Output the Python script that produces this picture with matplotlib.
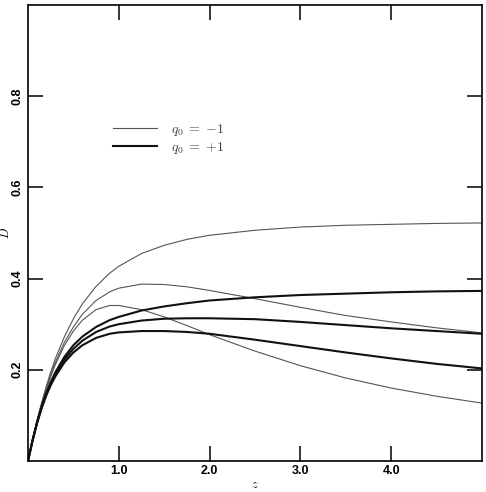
import matplotlib
matplotlib.use("Agg")
import matplotlib.pyplot as plt
from matplotlib.lines import Line2D

plt.rcParams['mathtext.fontset'] = 'cm'

# redshift samples
z = [0.0, 0.05, 0.1, 0.15, 0.2, 0.25, 0.3, 0.4, 0.5, 0.6, 0.75, 0.9, 1.0,
     1.25, 1.5, 1.75, 2.0, 2.5, 3.0, 3.5, 4.0, 4.5, 5.0]

# q0 = -1 (thin curves)
thin_a = [0.0, 0.047, 0.090, 0.128, 0.163, 0.195, 0.224, 0.272, 0.312, 0.345, 0.383, 0.412, 0.427,
          0.455, 0.473, 0.486, 0.495, 0.506, 0.513, 0.517, 0.519, 0.521, 0.522]
thin_b = [0.0, 0.046, 0.088, 0.125, 0.159, 0.189, 0.216, 0.260, 0.294, 0.322, 0.352, 0.371, 0.379,
          0.388, 0.387, 0.382, 0.374, 0.356, 0.337, 0.319, 0.305, 0.292, 0.281]
thin_c = [0.0, 0.046, 0.087, 0.123, 0.156, 0.185, 0.211, 0.253, 0.285, 0.309, 0.332, 0.341, 0.341,
          0.332, 0.316, 0.297, 0.277, 0.241, 0.209, 0.182, 0.160, 0.142, 0.127]

# q0 = +1 (thick curves)
thick_d = [0.0, 0.045, 0.085, 0.119, 0.148, 0.173, 0.194, 0.228, 0.254, 0.273, 0.294, 0.309, 0.316,
           0.330, 0.339, 0.346, 0.352, 0.359, 0.364, 0.367, 0.370, 0.372, 0.373]
thick_e = [0.0, 0.045, 0.084, 0.117, 0.145, 0.169, 0.189, 0.222, 0.246, 0.264, 0.283, 0.295, 0.300,
           0.308, 0.312, 0.313, 0.313, 0.311, 0.305, 0.298, 0.291, 0.285, 0.279]
thick_f = [0.0, 0.045, 0.083, 0.116, 0.143, 0.166, 0.185, 0.216, 0.238, 0.254, 0.270, 0.279, 0.282,
           0.285, 0.285, 0.283, 0.279, 0.266, 0.252, 0.238, 0.225, 0.213, 0.203]

x_ticks = [1.0, 2.0, 3.0, 4.0]
y_ticks = [0.2, 0.4, 0.6, 0.8]
legend_labels = [r'$q_0\;{=}\;{-1}$', r'$q_0\;{=}\;{+1}$']

THIN_COLOR = "#555555"
THICK_COLOR = "#111111"


def main():
    fig = plt.figure(figsize=(4.86, 4.92), dpi=100)
    ax = fig.add_axes([28 / 486, 31 / 492, 454 / 486, 456 / 492])

    for ys in (thin_a, thin_b, thin_c):
        ax.plot(z, ys, color=THIN_COLOR, lw=0.8)
    for ys in (thick_d, thick_e, thick_f):
        ax.plot(z, ys, color=THICK_COLOR, lw=1.5)

    ax.set_xlim(0, 5)
    ax.set_ylim(0, 1)
    ax.set_xticks(x_ticks)
    ax.set_yticks(y_ticks)
    ax.set_xticklabels(["%.1f" % t for t in x_ticks], fontfamily="Liberation Sans",
                       fontweight="bold", fontsize=9)
    ax.set_yticklabels(["%.1f" % t for t in y_ticks], fontfamily="Liberation Sans",
                       fontweight="bold", fontsize=9, rotation=90, va="center")
    ax.tick_params(direction="in", length=11, width=1.1, top=True, right=True, pad=3)

    for sp in ax.spines.values():
        sp.set_linewidth(1.2)

    ax.set_xlabel(r'$z$', fontsize=9)
    ax.set_ylabel(r'$D$', fontsize=9)
    ax.xaxis.set_label_coords(0.5, -0.037)
    ax.yaxis.set_label_coords(-0.035, 0.5)

    handles = [Line2D([], [], color=THIN_COLOR, lw=0.8),
               Line2D([], [], color=THICK_COLOR, lw=1.5)]
    leg = ax.legend(handles, legend_labels, loc="upper left", bbox_to_anchor=(0.175, 0.755),
                    frameon=False, fontsize=10, handlelength=3.2, handletextpad=1.0,
                    labelspacing=0.15, borderaxespad=0)
    for t in leg.get_texts():
        t.set_color("#444444")

    plt.savefig("out.png", dpi=100)
    plt.close()


if __name__ == '__main__':
    main()
